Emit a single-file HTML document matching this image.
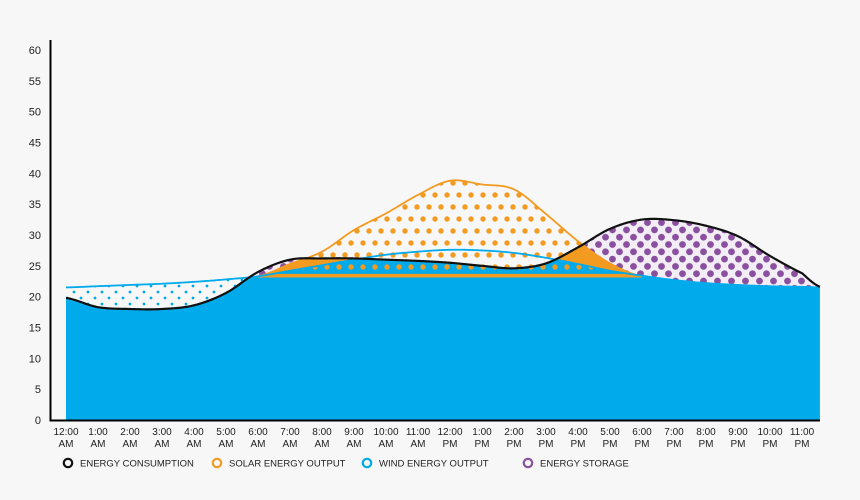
<!DOCTYPE html>
<html><head><meta charset="utf-8"><style>
body{margin:0;background:#f7f7f7;font-family:"Liberation Sans",sans-serif}
svg{display:block}
</style></head><body>
<svg id="chart" width="860" height="500" viewBox="0 0 860 500">
<defs>
<pattern id="pBlue" width="14" height="12" patternUnits="userSpaceOnUse"><circle cx="4" cy="4" r="1.4" fill="#00a9e8"/><circle cx="11" cy="10" r="1.4" fill="#00a9e8"/></pattern>
<pattern id="pOr" width="12" height="24" patternUnits="userSpaceOnUse"><circle cx="3" cy="3" r="2.7" fill="#f39a21"/><circle cx="9" cy="15" r="2.7" fill="#f39a21"/></pattern>
<pattern id="pPur" width="14" height="14.6" patternUnits="userSpaceOnUse"><rect width="14" height="14.6" fill="#f3eef6"/><circle cx="3.5" cy="3.6" r="3.4" fill="#8a4f9e"/><circle cx="10.5" cy="10.9" r="3.4" fill="#8a4f9e"/></pattern>
</defs>
<g id="layers"></g>
</svg>
<script>
const hours = [0,1,2,3,4,5,6,7,8,9,10,11,12,13,14,15,16,17,18,19,20,21,22,23,23.56];
const consumption = [19.8,18.3,18,18,18.6,20.6,24,26,26.2,26.2,26,25.8,25.5,25,24.6,25.4,28,31,32.5,32.4,31.5,29.8,26.6,23.8,21.6];
const wind = [21.5,21.7,21.9,22.1,22.4,22.8,23.3,24.2,25.1,26,26.8,27.3,27.6,27.5,27.1,26.3,25.3,24.2,23.4,22.7,22.2,21.9,21.7,21.6,21.5];
const solarTotal = [null,null,null,null,null,null,23.3,25.3,27.3,30.8,33.5,36.5,38.8,38.2,37.4,33.4,29,25.4,23.3,null,null,null,null,null,null];
const yTicks = [0,5,10,15,20,25,30,35,40,45,50,55,60];
const xLabels = ["12:00|AM","1:00|AM","2:00|AM","3:00|AM","4:00|AM","5:00|AM","6:00|AM","7:00|AM","8:00|AM","9:00|AM","10:00|AM","11:00|AM","12:00|PM","1:00|PM","2:00|PM","3:00|PM","4:00|PM","5:00|PM","6:00|PM","7:00|PM","8:00|PM","9:00|PM","10:00|PM","11:00|PM"];
const BASE = 23.4;

const X = t => 66 + 32 * t;
const Y = v => 420 - v * (370 / 60);
const NS = "http://www.w3.org/2000/svg";
const L = document.getElementById('layers');
function mk(tag, attrs, parent){const e=document.createElementNS(NS,tag);for(const k in attrs)e.setAttribute(k,attrs[k]);(parent||L).appendChild(e);return e;}

function interp(ts, vs){
  return function(t){
    let i=0; while(i<ts.length-2 && t>ts[i+1]) i++;
    if(vs[i]==null||vs[i+1]==null) return null;
    const p0=vs[i-1]!=null&&i>0?vs[i-1]:vs[i], p1=vs[i], p2=vs[i+1], p3=(i+2<vs.length&&vs[i+2]!=null)?vs[i+2]:vs[i+1];
    const u=(t-ts[i])/(ts[i+1]-ts[i]);
    return 0.5*((2*p1)+(-p0+p2)*u+(2*p0-5*p1+4*p2-p3)*u*u+(-p0+3*p1-3*p2+p3)*u*u*u);
  };
}
const C = interp(hours, consumption), W = interp(hours, wind), S = interp(hours, solarTotal);
const tEnd = hours[hours.length-1];
const samples=[]; for(let t=0;t<=tEnd+1e-9;t+=0.04) samples.push(Math.min(t,tEnd));
const solidF = t => { let v=Math.min(C(t),W(t)); if(S(t)!=null) v=Math.min(v,BASE); return v; };

function band(lo, hi, fill, name){
  let d='';
  samples.forEach(t=>{const a=lo(t); let b=hi(t); if(a==null) return; if(b==null||b<a) b=a; d+=(d?'L':'M')+X(t).toFixed(2)+','+Y(b).toFixed(2);});
  for(let i=samples.length-1;i>=0;i--){const t=samples[i];const a=lo(t); if(a==null) continue; d+='L'+X(t).toFixed(2)+','+Y(a).toFixed(2);}
  const p=mk('path',{d:d+'Z',fill:fill});
  
  
  return p;
}
function line(fn, color, w, name){
  let d='';
  samples.forEach(t=>{const v=fn(t); if(v==null) return; d+=(d?'L':'M')+X(t).toFixed(2)+','+Y(v).toFixed(2);});
  const p=mk('path',{d:d,fill:'none',stroke:color,'stroke-width':w,'stroke-linejoin':'round'});
  
  
}
band(()=>0, solidF, '#00aaeb', 'wind-used-area');
band(solidF, t=>S(t)==null?W(t):null, 'url(#pBlue)', 'wind-surplus-area');
band(solidF, t=>S(t)==null?null:Math.min(C(t),W(t)), '#00aaeb', 'wind-middle-area');
band(solidF, t=>S(t)==null?null:Math.min(C(t),W(t)), 'url(#pOr)', 'solar-dots-middle');
band(t=>S(t)==null?null:BASE-0.3, t=>S(t)==null?null:BASE+0.3, '#f39a21', 'solar-base-stripe');
band(t=>S(t)==null?null:Math.max(C(t),solidF(t)), t=>S(t), 'url(#pOr)', 'solar-surplus-area');
band(t=>S(t)==null?null:W(t), t=>S(t)==null?null:Math.min(C(t),S(t)), '#f39a21', 'solar-used-area');
band(t=>{const s=S(t);return Math.max(W(t), s==null?0:s);}, C, 'url(#pPur)', 'storage-area');
line(S, '#f39a21', 1.8, 'solar-line');
line(W, '#00aaeb', 1.8, 'wind-line');
line(C, '#111', 2.2, 'consumption-line');

const ax=mk('path',{d:'M50.5,40 V420.5 H820',fill:'none',stroke:'#000','stroke-width':2});


yTicks.forEach(v=>{
  const t=mk('text',{x:41,y:Y(v)+4,'text-anchor':'end','font-size':11,fill:'#222'});
  t.textContent=v;
  
  
});
xLabels.forEach((s,i)=>{
  const [a,b]=s.split('|');
  const t=mk('text',{x:X(i),y:435,'text-anchor':'middle','font-size':10,fill:'#222'});
  t.textContent=a;
  
  
  const t2=mk('text',{x:X(i),y:447,'text-anchor':'middle','font-size':10,fill:'#222'});
  t2.textContent=b;
  
  
});
const legend=[["ENERGY CONSUMPTION","#111",68],["SOLAR ENERGY OUTPUT","#f39a21",217],["WIND ENERGY OUTPUT","#00aaeb",367],["ENERGY STORAGE","#8a4f9e",528]];
legend.forEach(([txt,col,x])=>{
  const g=mk('g',{});
  
  
  mk('circle',{cx:x,cy:463,r:4.2,fill:'none',stroke:col,'stroke-width':2.2},g);
  const t=mk('text',{x:x+12,y:466.5,'font-size':9.5,fill:'#222'},g);
  t.textContent=txt;
});
</script>
</body></html>
